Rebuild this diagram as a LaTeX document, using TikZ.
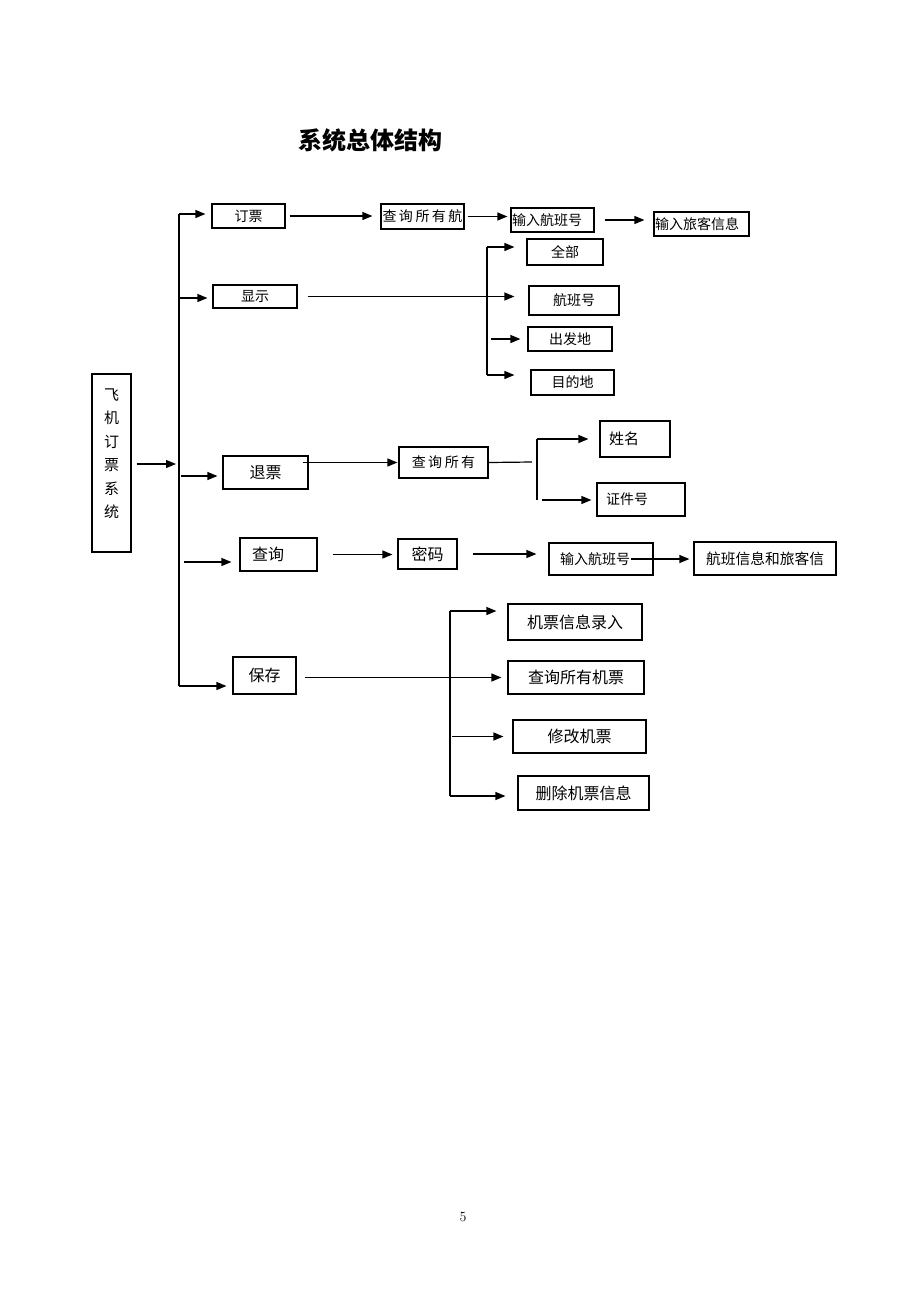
\documentclass[tikz,border=0pt]{standalone}
\usepackage{fontspec}
\newfontfamily\cjk{Noto Sans CJK SC}
\usetikzlibrary{arrows.meta}
\newcommand{\gp}{\hspace{2.5pt}}

\begin{document}
\begin{tikzpicture}[x=1pt, y=-1pt, >={Triangle[length=10pt,width=8pt]}, line width=1.2pt,
    box/.style={draw, inner sep=0pt, font=\cjk\fontsize{14}{16}\selectfont},
    big/.style={font=\cjk\fontsize{16}{18}\selectfont}]

    \useasboundingbox (0,0) rectangle (920,1302);

    \node[font=\cjk\bfseries\fontsize{24}{28}\selectfont] (title) at (370,140) {系统总体结构};

    % main box
    \node[box, minimum width=39pt, minimum height=178pt] (sys) at (111.5,463) {};
    \node[font=\cjk\fontsize{15}{23.5}\selectfont, align=center] (sysname) at ([yshift=9.5pt]sys.center) {飞\\机\\订\\票\\系\\统};

    % first level
    \node[box, minimum width=73pt, minimum height=24pt] (dp) at (248.5,216) {订票};
    \node[box, minimum width=84pt, minimum height=23pt] (xs) at (255,296.5) {显示};
    \node[box, big, minimum width=85pt, minimum height=33pt] (tp) at (265.5,472.5) {退票};
    \node[box, big, minimum width=77pt, minimum height=33pt, text width=53pt, inner xsep=12pt, align=left] (cx) at (278.5,554.5) {查询};
    \node[box, big, minimum width=63pt, minimum height=37pt] (bc) at (264.5,675.5) {保存};

    % booking
    \node[box, minimum width=83pt, minimum height=25pt] (cxsy) at (422.5,216.5) {查\gp 询\gp 所\gp 有\gp 航};
    \node[box, minimum width=83pt, minimum height=24pt, text width=81pt, inner xsep=1pt, align=left] (srhb) at (552.5,220) {输入航班号};
    \node[box, minimum width=95pt, minimum height=24pt, text width=93pt, inner xsep=1pt, align=left] (srlk) at (701.5,224) {输入旅客信息};

    % display
    \node[box, minimum width=76pt, minimum height=26pt] (qb) at (565,252) {全部};
    \node[box, minimum width=90pt, minimum height=29pt] (hbh) at (574,300.5) {航班号};
    \node[box, minimum width=84pt, minimum height=24pt] (cfd) at (570,339) {出发地};
    \node[box, minimum width=83pt, minimum height=25pt] (mdd) at (572.5,382.5) {目的地};

    % refund
    \node[box, minimum width=89pt, minimum height=31pt] (cxsy2) at (443.5,462.5) {查\gp 询\gp 所\gp 有};
    \node[box, font=\cjk\fontsize{15}{17}\selectfont, minimum width=70pt, minimum height=36pt, text width=52pt, inner xsep=9pt, align=left] (xm) at (635,439) {姓名};
    \node[box, minimum width=88pt, minimum height=33pt, text width=70pt, inner xsep=9pt, align=left] (zjh) at (641,499.5) {证件号};

    % query
    \node[box, big, minimum width=59pt, minimum height=30pt] (mm) at (427.5,554) {密码};
    \node[box, minimum width=104pt, minimum height=32pt, text width=82pt, inner xsep=11pt, align=left] (srhb2) at (601,559) {输入航班号};
    \node[box, font=\cjk\fontsize{14.75}{17}\selectfont, minimum width=142pt, minimum height=33pt] (hbxx) at (765,558.5) {航班信息和旅客信};

    % save
    \node[box, big, minimum width=134pt, minimum height=36pt] (jplr) at (575,622) {机票信息录入};
    \node[box, big, minimum width=136pt, minimum height=33pt] (cxjp) at (576,677.5) {查询所有机票};
    \node[box, big, minimum width=133pt, minimum height=33pt] (xgjp) at (579.5,736.5) {修改机票};
    \node[box, big, minimum width=131pt, minimum height=34pt] (scjp) at (583.5,793) {删除机票信息};

    \node[font=\fontsize{14}{16}\selectfont] (page) at (463,1217) {5};

    % trunk
    \coordinate (t1) at (179,214);
    \coordinate (t2) at (179,298);
    \coordinate (tm) at (179,464);
    \coordinate (t3) at (179,476);
    \coordinate (t4) at (179,562);
    \coordinate (t5) at (179,686);
    \draw (t1) -- (t5);
    \draw[->, shorten <=5pt, shorten >=3pt] (sys.east |- tm) -- (tm);
    \draw[->, shorten >=6pt] (t1) -- (t1 -| dp.west);
    \draw[->, shorten >=5pt] (t2) -- (t2 -| xs.west);
    \draw[->, shorten <=2pt, shorten >=5pt] (t3) -- (t3 -| tp.west);
    \draw[->, shorten <=5pt, shorten >=8pt] (t4) -- (t4 -| cx.west);
    \draw[->, shorten >=6pt] (t5) -- (t5 -| bc.west);

    \draw[->, shorten <=4pt, shorten >=8pt] (dp.east) -- (dp.east -| cxsy.west);
    \draw[->, shorten <=3pt, shorten >=3pt] (cxsy.east) -- (cxsy.east -| srhb.west);
    \draw[->, shorten <=10pt, shorten >=9pt] (srhb.east) -- (srhb.east -| srlk.west);

    \coordinate (s2a) at (487,247);
    \coordinate (s2b) at (487,375);
    \draw (s2a) -- (s2b);
    \draw[->, shorten <=10pt, shorten >=14pt] (xs.east) -- (xs.east -| hbh.west);
    \draw[->, shorten >=12pt] (s2a) -- (s2a -| qb.west);
    \draw[->, shorten <=4pt, shorten >=7pt] (s2a |- cfd) -- (cfd.west);
    \draw[->, shorten >=16pt] (s2b) -- (s2b -| mdd.west);

    \draw[->, shorten <=-6pt, shorten >=1pt] (tp.east |- cxsy2) -- (cxsy2.west);
    \coordinate (s3m) at (532,462);
    \coordinate (s3a) at (537,439);
    \coordinate (s3b) at (537,500);
    \draw (cxsy2.east) -- (s3m);
    \draw (s3a) -- (s3b);
    \draw[->, shorten >=11pt] (s3a) -- (s3a -| xm.west);
    \draw[->, shorten <=5pt, shorten >=5pt] (s3b) -- (s3b -| zjh.west);

    \draw[->, shorten <=15pt, shorten >=5pt] (cx.east) -- (cx.east -| mm.west);
    \draw[->, shorten <=15pt, shorten >=12pt] (mm.east) -- (mm.east -| srhb2.west);
    \draw[->, shorten <=-23pt, shorten >=4pt] (srhb2.east) -- (srhb2.east -| hbxx.west);

    \coordinate (s5a) at (450,611);
    \coordinate (s5b) at (450,796);
    \draw (s5a) -- (s5b);
    \draw[->, shorten <=8pt, shorten >=6pt] (bc.east |- cxjp) -- (cxjp.west);
    \draw[->, shorten >=11pt] (s5a) -- (s5a -| jplr.west);
    \draw[->, shorten <=2pt, shorten >=9pt] (s5a |- xgjp) -- (xgjp.west);
    \draw[->, shorten >=12pt] (s5b) -- (s5b -| scjp.west);

\end{tikzpicture}
\end{document}
